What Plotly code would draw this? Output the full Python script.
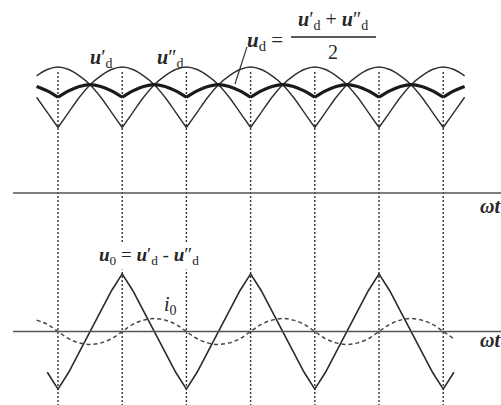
import plotly.graph_objects as go

# Phase angle grid (degrees of ωt), sampled every 5°
wt = list(range(-10, 195, 5))

# Output voltage of the first six-pulse bridge (peaks at 30°, 90°, 150°)
u_d1 = [0.76, 0.64,
        0.52, 0.64, 0.76, 0.86, 0.93, 0.98, 1.00, 0.98, 0.93, 0.86, 0.76, 0.64,
        0.52, 0.64, 0.76, 0.86, 0.93, 0.98, 1.00, 0.98, 0.93, 0.86, 0.76, 0.64,
        0.52, 0.64, 0.76, 0.86, 0.93, 0.98, 1.00, 0.98, 0.93, 0.86, 0.76, 0.64,
        0.52, 0.64, 0.76]

# Output voltage of the second bridge, shifted by 30° (peaks at 0°, 60°, ...)
u_d2 = [0.93, 0.98,
        1.00, 0.98, 0.93, 0.86, 0.76, 0.64, 0.52, 0.64, 0.76, 0.86, 0.93, 0.98,
        1.00, 0.98, 0.93, 0.86, 0.76, 0.64, 0.52, 0.64, 0.76, 0.86, 0.93, 0.98,
        1.00, 0.98, 0.93, 0.86, 0.76, 0.64, 0.52, 0.64, 0.76, 0.86, 0.93, 0.98,
        1.00, 0.98, 0.93]

# Circulating current through the interphase reactor
i_0 = [0.095, 0.06,
       0.0, -0.06, -0.095, -0.108, -0.095, -0.06,
       0.0, 0.06, 0.095, 0.108, 0.095, 0.06,
       0.0, -0.06, -0.095, -0.108, -0.095, -0.06,
       0.0, 0.06, 0.095, 0.108, 0.095, 0.06,
       0.0, -0.06, -0.095, -0.108, -0.095, -0.06,
       0.0, 0.06, 0.095, 0.108, 0.095, 0.06,
       0.0, -0.06, -0.095]

# Commutation instants marked by the vertical dotted guides
guides = [0, 30, 60, 90, 120, 150, 180]

# Mean output and reactor voltage
u_d = [(a + b) / 2 for a, b in zip(u_d1, u_d2)]
u_0 = [a - b for a, b in zip(u_d1, u_d2)]


def split_at_cusps(xs, ys):
    """Break a trace at its local minima so each arc is smoothed on its own."""
    ox, oy = [], []
    for i, (x, y) in enumerate(zip(xs, ys)):
        ox.append(x)
        oy.append(y)
        if 0 < i < len(ys) - 1 and ys[i] < ys[i - 1] and ys[i] < ys[i + 1]:
            ox += [None, x]
            oy += [None, y]
    return ox, oy


SERIF = "Times New Roman, Liberation Serif, DejaVu Serif, serif"
INK = "#262626"

fig = go.Figure()

for series in (u_d1, u_d2):
    x, y = split_at_cusps(wt, series)
    fig.add_trace(go.Scatter(x=x, y=y, mode="lines", connectgaps=False,
                             line=dict(color="#2e2e2e", width=1.4, shape="spline"),
                             hoverinfo="skip"))

x, y = split_at_cusps(wt, u_d)
fig.add_trace(go.Scatter(x=x, y=y, mode="lines", connectgaps=False,
                         line=dict(color="#1a1a1a", width=3.2, shape="spline"),
                         hoverinfo="skip"))

fig.add_trace(go.Scatter(x=wt[1:-1], y=u_0[1:-1], mode="lines", yaxis="y2",
                         line=dict(color="#2a2a2a", width=1.6),
                         hoverinfo="skip"))

fig.add_trace(go.Scatter(x=wt[:-1], y=i_0[:-1], mode="lines", yaxis="y2",
                         line=dict(color="#444444", width=1.5, dash="4px,3px",
                                   shape="spline"),
                         hoverinfo="skip"))

shapes = []
# Vertical dotted guides through both panels
for g in guides:
    shapes.append(dict(type="line", xref="x", yref="y", x0=g, x1=g, y0=0.96, y1=-1.8,
                       line=dict(color="#333333", width=1.4, dash="2px,2px"),
                       layer="below"))
# ωt axes
shapes.append(dict(type="line", xref="x", yref="y", x0=-21, x1=215, y0=0, y1=0,
                   line=dict(color="#555555", width=1.6)))
shapes.append(dict(type="line", xref="x", yref="y2", x0=-21, x1=215, y0=0, y1=0,
                   line=dict(color="#555555", width=1.6)))
# Leader from the formula to the mean-voltage curve
shapes.append(dict(type="line", xref="x", yref="y", x0=88.3, y0=1.16, x1=82.7, y1=0.865,
                   line=dict(color="#333333", width=1.2)))
# Fraction bar
shapes.append(dict(type="line", xref="x", yref="y", x0=108.9, x1=148.6, y0=1.238, y1=1.238,
                   line=dict(color="#222222", width=1.5)))

U = "<b><i>u</i></b>"


def label(text, x, y, yref="y", size=20, xanchor="left", bg=None):
    d = dict(text=text, x=x, y=y, xref="x", yref=yref, showarrow=False,
             xanchor=xanchor, yanchor="middle",
             font=dict(family=SERIF, size=size, color=INK))
    if bg:
        d["bgcolor"] = bg
        d["borderpad"] = 1
    return d


annotations = [
    label(U + "′<sub>d</sub>", 14.0, 1.07),
    label(U + "″<sub>d</sub>", 45.3, 1.07),
    label(U + "<sub>d</sub> =", 87.4, 1.21, size=21),
    label(U + "′<sub>d</sub> + " + U + "″<sub>d</sub>", 128.7, 1.37, xanchor="center"),
    label("2", 128.7, 1.12, xanchor="center", size=20),
    label(U + "<sub>0</sub> = " + U + "′<sub>d</sub> - " + U + "″<sub>d</sub>",
          18.2, 0.63, yref="y2", size=19, bg="white"),
    label("<i>i</i><sub>0</sub>", 48.5, 0.22, yref="y2", size=20),
    label("<b><i>ωt</i></b>", 196.3, -0.10, size=20),
    label("<b><i>ωt</i></b>", 196.3, -0.07, yref="y2", size=20),
]

fig.update_layout(
    width=501, height=405,
    margin=dict(l=0, r=0, t=0, b=0),
    paper_bgcolor="white", plot_bgcolor="white",
    showlegend=False,
    font=dict(family=SERIF),
    xaxis=dict(range=[-27.1, 207.0], visible=False, fixedrange=True),
    yaxis=dict(range=[-1.6825, 1.5317], visible=False, fixedrange=True),
    yaxis2=dict(range=[-0.6125, 2.7625], overlaying="y", visible=False, fixedrange=True),
    shapes=shapes,
    annotations=annotations,
)

fig.write_html("out.html")
